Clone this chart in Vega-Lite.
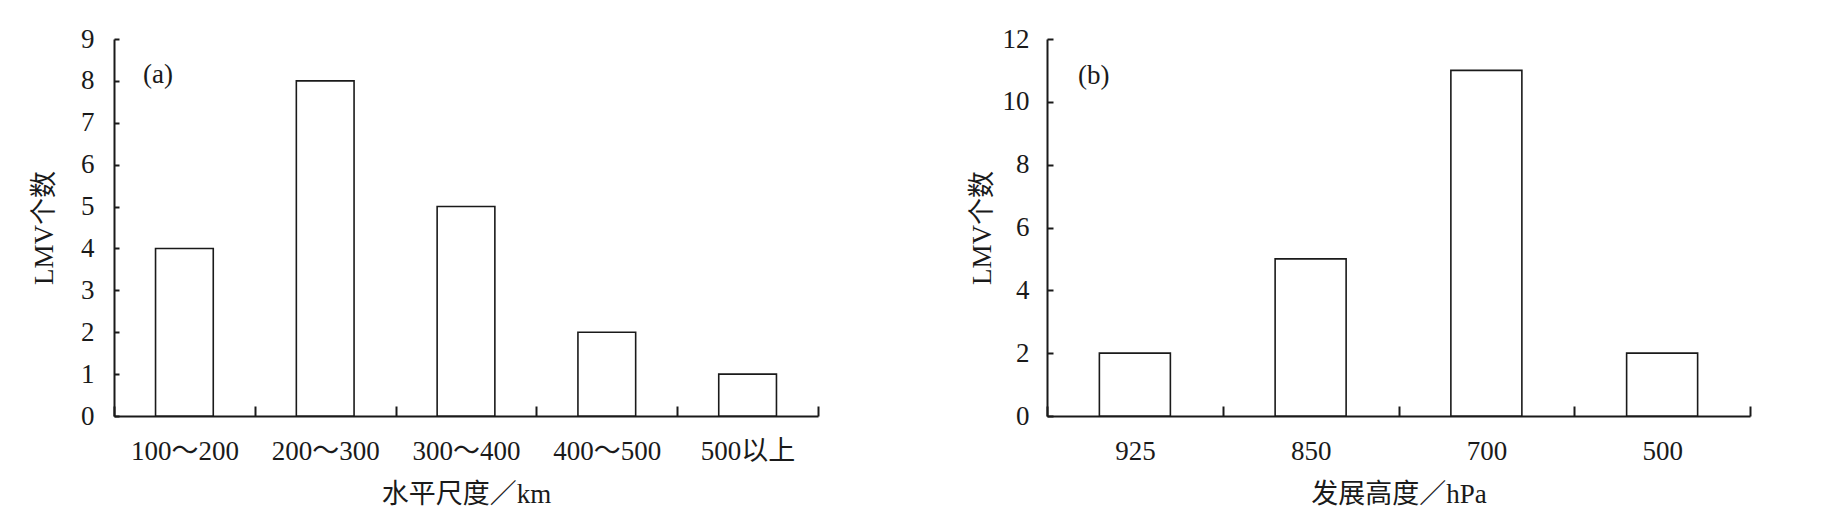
{
  "$schema": "https://vega.github.io/schema/vega-lite/v6.json",
  "background": "white",
  "padding": {"left": 30, "top": 25, "right": 10, "bottom": 10},
  "bounds": "flush",
  "spacing": 229,
  "config": {
    "font": "Liberation Serif, Noto Sans CJK SC",
    "view": {"stroke": null},
    "axis": {
      "domainColor": "#1a1a1a", "domainWidth": 2,
      "tickColor": "#1a1a1a", "tickWidth": 2,
      "labelColor": "#1a1a1a", "titleColor": "#1a1a1a",
      "labelFont": "Liberation Serif, Noto Sans CJK SC",
      "titleFont": "Liberation Serif, Noto Sans CJK SC",
      "labelFontSize": 27, "titleFontSize": 27, "titleFontWeight": "normal",
      "grid": false
    },
    "title": {"font": "Liberation Serif, Noto Sans CJK SC", "fontSize": 27, "fontWeight": "normal", "color": "#1a1a1a", "baseline": "middle"}
  },
  "datasets": {
    "a": [
      {"scale": "100～200", "count": 4},
      {"scale": "200～300", "count": 8},
      {"scale": "300～400", "count": 5},
      {"scale": "400～500", "count": 2},
      {"scale": "500以上", "count": 1}
    ],
    "b": [
      {"level": "925", "count": 2},
      {"level": "850", "count": 5},
      {"level": "700", "count": 11},
      {"level": "500", "count": 2}
    ]
  },
  "hconcat": [
    {
      "width": 704, "height": 377,
      "data": {"name": "a"},
      "title": {"text": "(a)", "anchor": "start", "frame": "group", "offset": -77, "dx": 29, "fontSize": 27, "font": "Liberation Serif", "fontWeight": "normal", "baseline": "middle"},
      "mark": {"type": "bar", "fill": "white", "stroke": "#1a1a1a", "strokeWidth": 1.6, "width": {"band": 0.41}},
      "encoding": {
        "x": {"field": "scale", "type": "nominal", "sort": null,
          "scale": {"paddingInner": 0, "paddingOuter": 0},
          "axis": {"title": "水平尺度／km", "labelAngle": 0, "tickBand": "extent", "tickSize": -10, "labelPadding": 32, "titleY": 78, "titleBaseline": "middle"}},
        "y": {"field": "count", "type": "quantitative",
          "scale": {"domain": [0, 9], "nice": false},
          "axis": {"title": "LMV个数", "values": [0,1,2,3,4,5,6,7,8,9], "tickSize": -5, "labelPadding": 25, "titleX": -70, "titleBaseline": "middle"}}
      }
    },
    {
      "width": 703, "height": 377,
      "data": {"name": "b"},
      "title": {"text": "(b)", "anchor": "start", "frame": "group", "offset": -78, "dx": 31, "fontSize": 27, "font": "Liberation Serif", "fontWeight": "normal", "baseline": "middle"},
      "mark": {"type": "bar", "fill": "white", "stroke": "#1a1a1a", "strokeWidth": 1.6, "width": {"band": 0.404}},
      "encoding": {
        "x": {"field": "level", "type": "nominal", "sort": null,
          "scale": {"paddingInner": 0, "paddingOuter": 0},
          "axis": {"title": "发展高度／hPa", "labelAngle": 0, "tickBand": "extent", "tickSize": -10, "labelPadding": 32, "titleY": 78, "titleBaseline": "middle"}},
        "y": {"field": "count", "type": "quantitative",
          "scale": {"domain": [0, 12], "nice": false},
          "axis": {"title": "LMV个数", "values": [0,2,4,6,8,10,12], "tickSize": -6, "labelPadding": 24, "titleX": -65, "titleBaseline": "middle"}}
      }
    }
  ]
}
